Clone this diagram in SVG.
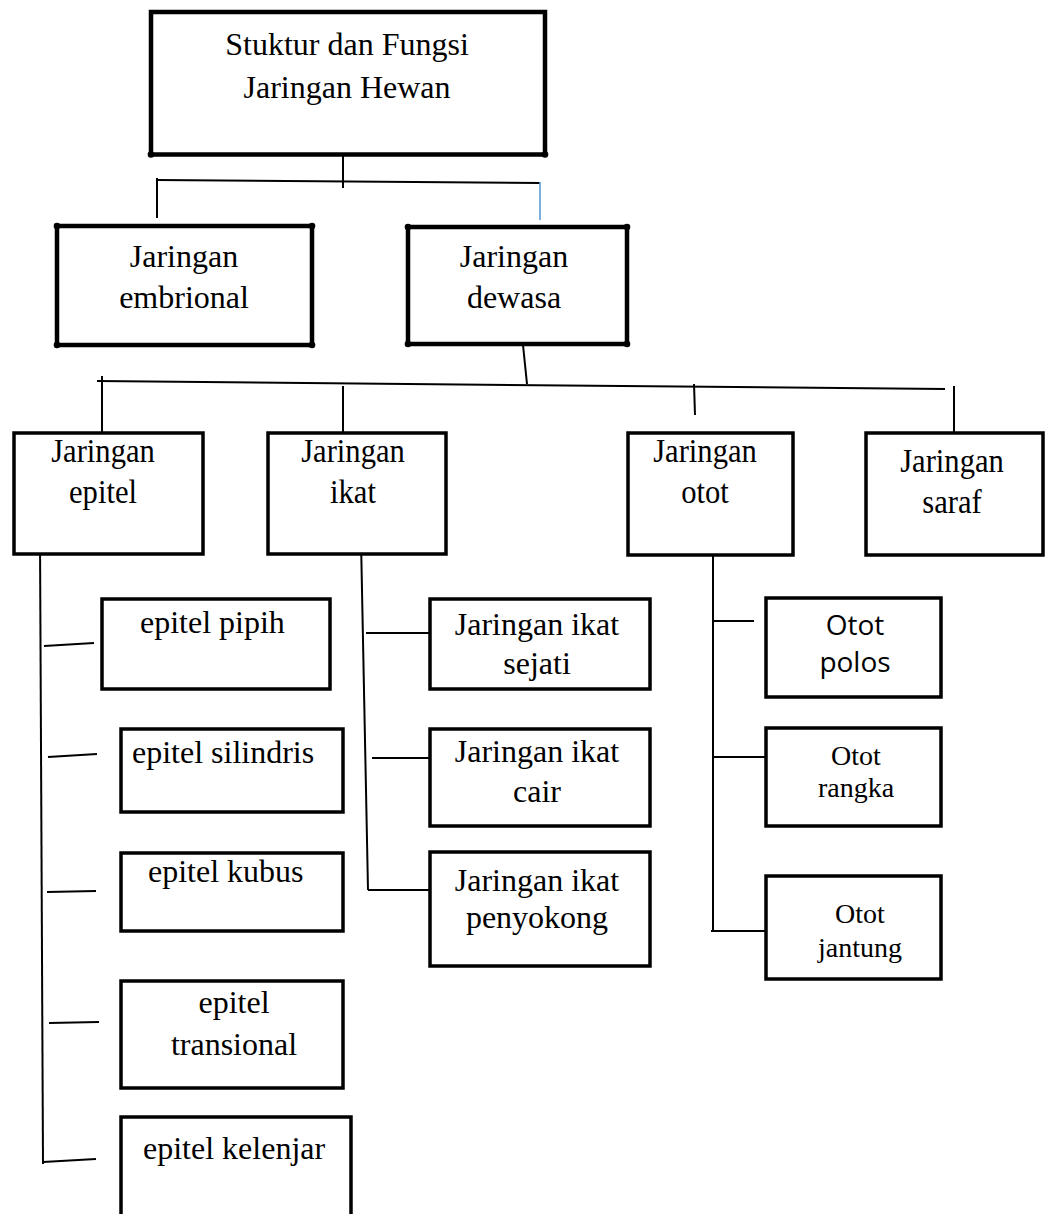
<svg xmlns="http://www.w3.org/2000/svg" width="1045" height="1214" viewBox="0 0 1045 1214">
<style>
  .thick{fill:#fff;stroke:#000;stroke-width:4.5}
  .box{fill:#fff;stroke:#000;stroke-width:3.5}
  .dot{fill:#000}
  .t{font-family:"Liberation Serif","Times New Roman",serif;fill:#000;text-anchor:middle}
  .ts{font-family:"Liberation Serif","Times New Roman",serif;fill:#000}
  .s{font-family:"Open Sans","Noto Sans",sans-serif;fill:#000;text-anchor:middle}
  .c{stroke:#000;fill:none;stroke-width:2}
</style>
<rect width="1045" height="1214" fill="#fff"/>

<g id="connectors">
  <line class="c" x1="343" y1="154" x2="343" y2="188" stroke-width="1.5"/>
  <line class="c" x1="157" y1="180" x2="540" y2="183"/>
  <line class="c" x1="157" y1="178" x2="157" y2="218"/>
  <line x1="540" y1="182" x2="540" y2="220" stroke="#5b9bd5" stroke-width="1.6"/>
  <line class="c" x1="523" y1="345" x2="527" y2="384" stroke-width="1.5"/>
  <line class="c" x1="97" y1="381" x2="945" y2="389" stroke-width="2.5" stroke="#222"/>
  <line class="c" x1="102" y1="376" x2="102" y2="433" stroke-width="2.5"/>
  <line class="c" x1="343" y1="386" x2="343" y2="433" stroke-width="2.5"/>
  <line class="c" x1="694" y1="384" x2="695" y2="415" stroke-width="1.5"/>
  <line class="c" x1="954" y1="386" x2="954" y2="433" stroke-width="2.5"/>
  <line class="c" x1="40" y1="539" x2="43" y2="1164"/>
  <line class="c" x1="44" y1="646" x2="94" y2="643"/>
  <line class="c" x1="48" y1="757" x2="97" y2="754"/>
  <line class="c" x1="47" y1="892" x2="96" y2="891"/>
  <line class="c" x1="49" y1="1023" x2="99" y2="1022"/>
  <line class="c" x1="43" y1="1162" x2="96" y2="1159"/>
  <line class="c" x1="361" y1="540" x2="368" y2="890" stroke="#333"/>
  <line class="c" x1="366" y1="633" x2="430" y2="633" stroke-width="3"/>
  <line class="c" x1="372" y1="758" x2="430" y2="758" stroke-width="3"/>
  <line class="c" x1="368" y1="890" x2="430" y2="890" stroke-width="3"/>
  <line class="c" x1="713" y1="555" x2="713" y2="932" stroke-width="3.5"/>
  <line class="c" x1="713" y1="621" x2="754" y2="621" stroke-width="3"/>
  <line class="c" x1="713" y1="757" x2="766" y2="757" stroke-width="3"/>
  <line class="c" x1="711" y1="931" x2="766" y2="931" stroke-width="3"/>
</g>

<g id="root">
  <rect class="thick" x="151" y="12" width="394" height="142.5"/>
  <circle class="dot" cx="151" cy="154.5" r="3.3"/><circle class="dot" cx="545" cy="154.5" r="3.3"/>
  <text class="t" x="347" y="55" font-size="32">Stuktur dan Fungsi</text>
  <text class="t" x="347" y="98" font-size="32">Jaringan Hewan</text>
</g>

<g id="embrional">
  <rect class="thick" x="57" y="226" width="255" height="119"/>
  <circle class="dot" cx="57" cy="226" r="3.3"/><circle class="dot" cx="312" cy="226" r="3.3"/>
  <circle class="dot" cx="57" cy="345" r="3.3"/><circle class="dot" cx="312" cy="345" r="3.3"/>
  <text class="t" x="184" y="267" font-size="32">Jaringan</text>
  <text class="t" x="184" y="308" font-size="32">embrional</text>
</g>

<g id="dewasa">
  <rect class="thick" x="408" y="227" width="219" height="117"/>
  <circle class="dot" cx="408" cy="227" r="3.3"/><circle class="dot" cx="627" cy="227" r="3.3"/>
  <circle class="dot" cx="408" cy="344" r="3.3"/><circle class="dot" cx="627" cy="344" r="3.3"/>
  <text class="t" x="514" y="267" font-size="32">Jaringan</text>
  <text class="t" x="514" y="308" font-size="32">dewasa</text>
</g>

<g id="epitel">
  <rect class="box" x="14" y="433" width="189" height="121"/>
  <g transform="translate(103,0) scale(0.9,1)">
    <text class="t" x="0" y="462" font-size="34">Jaringan</text>
    <text class="t" x="0" y="503" font-size="34">epitel</text>
  </g>
</g>

<g id="ikat">
  <rect class="box" x="268" y="433" width="178" height="121"/>
  <g transform="translate(353,0) scale(0.9,1)">
    <text class="t" x="0" y="462" font-size="34">Jaringan</text>
    <text class="t" x="0" y="503" font-size="34">ikat</text>
  </g>
</g>

<g id="otot">
  <rect class="box" x="628" y="433" width="165" height="122"/>
  <g transform="translate(705,0) scale(0.9,1)">
    <text class="t" x="0" y="462" font-size="34">Jaringan</text>
    <text class="t" x="0" y="503" font-size="34">otot</text>
  </g>
</g>

<g id="saraf">
  <rect class="box" x="866" y="433" width="177" height="122"/>
  <g transform="translate(952,0) scale(0.9,1)">
    <text class="t" x="0" y="472" font-size="34">Jaringan</text>
    <text class="t" x="0" y="513" font-size="34">saraf</text>
  </g>
</g>

<g id="epitel-pipih">
  <rect class="box" x="102" y="599" width="228" height="90"/>
  <text class="ts" x="140" y="633" font-size="32">epitel pipih</text>
</g>
<g id="epitel-silindris">
  <rect class="box" x="121" y="729" width="222" height="83"/>
  <text class="ts" x="132" y="763" font-size="32">epitel silindris</text>
</g>
<g id="epitel-kubus">
  <rect class="box" x="121" y="853" width="222" height="78"/>
  <text class="ts" x="148" y="882" font-size="32">epitel kubus</text>
</g>
<g id="epitel-transional">
  <rect class="box" x="121" y="981" width="222" height="107"/>
  <text class="t" x="234" y="1013" font-size="32">epitel</text>
  <text class="t" x="234" y="1055" font-size="32">transional</text>
</g>
<g id="epitel-kelenjar">
  <path class="box" d="M121,1220 V1117 H351 V1220"/>
  <text class="ts" x="143" y="1159" font-size="32">epitel kelenjar</text>
</g>

<g id="ikat-sejati">
  <rect class="box" x="430" y="599" width="220" height="90"/>
  <text class="t" x="537" y="635" font-size="32">Jaringan ikat</text>
  <text class="t" x="537" y="674" font-size="32">sejati</text>
</g>
<g id="ikat-cair">
  <rect class="box" x="430" y="729" width="220" height="97"/>
  <text class="t" x="537" y="762" font-size="32">Jaringan ikat</text>
  <text class="t" x="537" y="802" font-size="32">cair</text>
</g>
<g id="ikat-penyokong">
  <rect class="box" x="430" y="852" width="220" height="114"/>
  <text class="t" x="537" y="891" font-size="32">Jaringan ikat</text>
  <text class="t" x="537" y="928" font-size="32">penyokong</text>
</g>

<g id="otot-polos">
  <rect class="box" x="766" y="598" width="175" height="99"/>
  <text class="s" x="855" y="635" font-size="28">Otot</text>
  <text class="s" x="855" y="672" font-size="28">polos</text>
</g>
<g id="otot-rangka">
  <rect class="box" x="766" y="728" width="175" height="98"/>
  <text class="t" x="856" y="765" font-size="28">Otot</text>
  <text class="t" x="856" y="797" font-size="28">rangka</text>
</g>
<g id="otot-jantung">
  <rect class="box" x="766" y="876" width="175" height="103"/>
  <text class="t" x="860" y="923" font-size="28">Otot</text>
  <text class="t" x="860" y="957" font-size="28">jantung</text>
</g>
</svg>
